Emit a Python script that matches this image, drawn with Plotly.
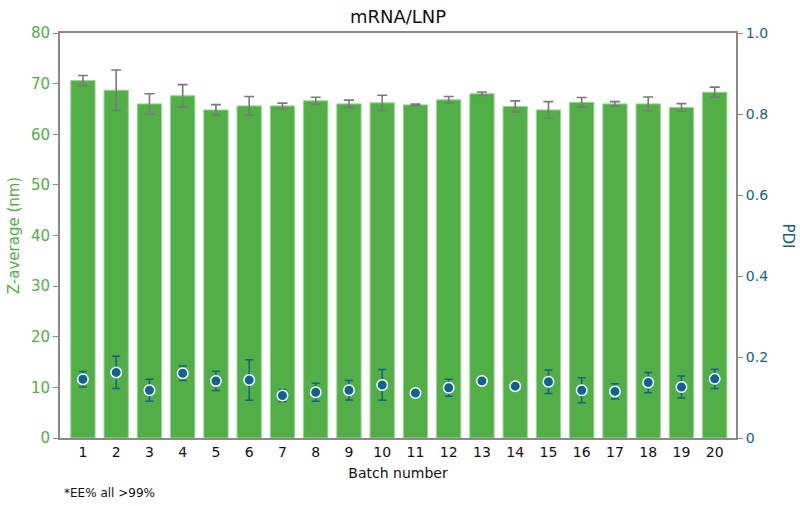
import plotly.graph_objects as go

batches = list(range(1, 21))
z_avg = [70.6, 68.7, 66.0, 67.6, 64.8, 65.6, 65.6, 66.6, 66.0, 66.2,
         65.8, 66.8, 68.0, 65.5, 64.8, 66.3, 66.0, 66.0, 65.3, 68.3]
z_err = [1.0, 4.0, 2.0, 2.2, 1.05, 1.85, 0.55, 0.7, 0.75, 1.5,
         0.15, 0.65, 0.35, 1.1, 1.65, 0.95, 0.45, 1.35, 0.75, 1.0]
pdi = [0.145, 0.162, 0.118, 0.160, 0.141, 0.143, 0.105, 0.113, 0.118, 0.131,
       0.111, 0.124, 0.141, 0.128, 0.139, 0.118, 0.115, 0.137, 0.126, 0.146]
pdi_err = [0.019, 0.040, 0.027, 0.018, 0.024, 0.050, 0.015, 0.022, 0.024, 0.038,
           0.0, 0.021, 0.0, 0.0, 0.029, 0.031, 0.019, 0.025, 0.027, 0.024]
left_ticks = [0, 10, 20, 30, 40, 50, 60, 70, 80]
right_ticks = [0, 0.2, 0.4, 0.6, 0.8, 1.0]
right_labels = ["0", "0.2", "0.4", "0.6", "0.8", "1.0"]

GREEN = "#52AE47"
BLUE = "#11628F"
GREY = "#8a8a8a"
FONT = "DejaVu Sans"

fig = go.Figure()
fig.add_trace(go.Bar(
    x=batches, y=z_avg, width=0.73,
    marker=dict(color=GREEN, line=dict(color="#9AD48E", width=1)),
    error_y=dict(type="data", array=z_err, visible=True,
                 color="#7a7a7a", thickness=1.6, width=5),
    showlegend=False, yaxis="y"))
fig.add_trace(go.Scatter(
    x=batches, y=pdi, mode="markers",
    marker=dict(color=BLUE, size=10.5, line=dict(color="white", width=1.5)),
    error_y=dict(type="data", array=pdi_err, visible=True,
                 color=BLUE, thickness=1.5, width=4),
    showlegend=False, yaxis="y2"))

fig.update_layout(
    width=800, height=506,
    margin=dict(l=60, r=64, t=33, b=68),
    plot_bgcolor="white", paper_bgcolor="white",
    font=dict(family=FONT, color="#111"),
    title=dict(text="mRNA/LNP", x=(60 + 736) / 2 / 800, xanchor="center",
               y=1 - 17 / 506, yanchor="middle",
               font=dict(size=18, color="#111", family=FONT)),
    xaxis=dict(range=[0.31, 20.64], tickmode="array", tickvals=batches,
               ticktext=[str(b) for b in batches], showgrid=False,
               showline=True, linecolor=GREY, linewidth=2, mirror=True,
               ticks="", tickfont=dict(size=14, color="#111"),
               title=dict(text="Batch number", font=dict(size=14, color="#111"),
                          standoff=9), zeroline=False),
    yaxis=dict(range=[0, 80], tickmode="array", tickvals=left_ticks,
               showgrid=False, showline=True, linecolor=GREY, linewidth=2,
               ticks="outside", ticklen=5, tickcolor=GREY,
               tickfont=dict(size=15, color=GREEN), zeroline=False,
               title=dict(text="Z-average (nm)", font=dict(size=15, color=GREEN),
                          standoff=8)),
    yaxis2=dict(range=[0, 1], overlaying="y", side="right", tickmode="array",
                tickvals=right_ticks, ticktext=right_labels, showgrid=False,
                showline=True, linecolor=GREY, linewidth=2, ticks="outside",
                ticklen=5, tickcolor=GREY, tickfont=dict(size=14, color=BLUE),
                zeroline=False),
    annotations=[
        dict(text="*EE% all >99%", xref="paper", yref="paper",
             x=(62 - 60) / 676, y=(438 - 493) / 405, xanchor="left",
             yanchor="middle", showarrow=False,
             font=dict(size=12, color="#111", family=FONT)),
        dict(text="PDI", xref="paper", yref="paper",
             x=(788 - 60) / 676, y=0.5, xanchor="center", yanchor="middle",
             textangle=90, showarrow=False,
             font=dict(size=15, color=BLUE, family=FONT)),
    ],
)

fig.write_html("out.html")
